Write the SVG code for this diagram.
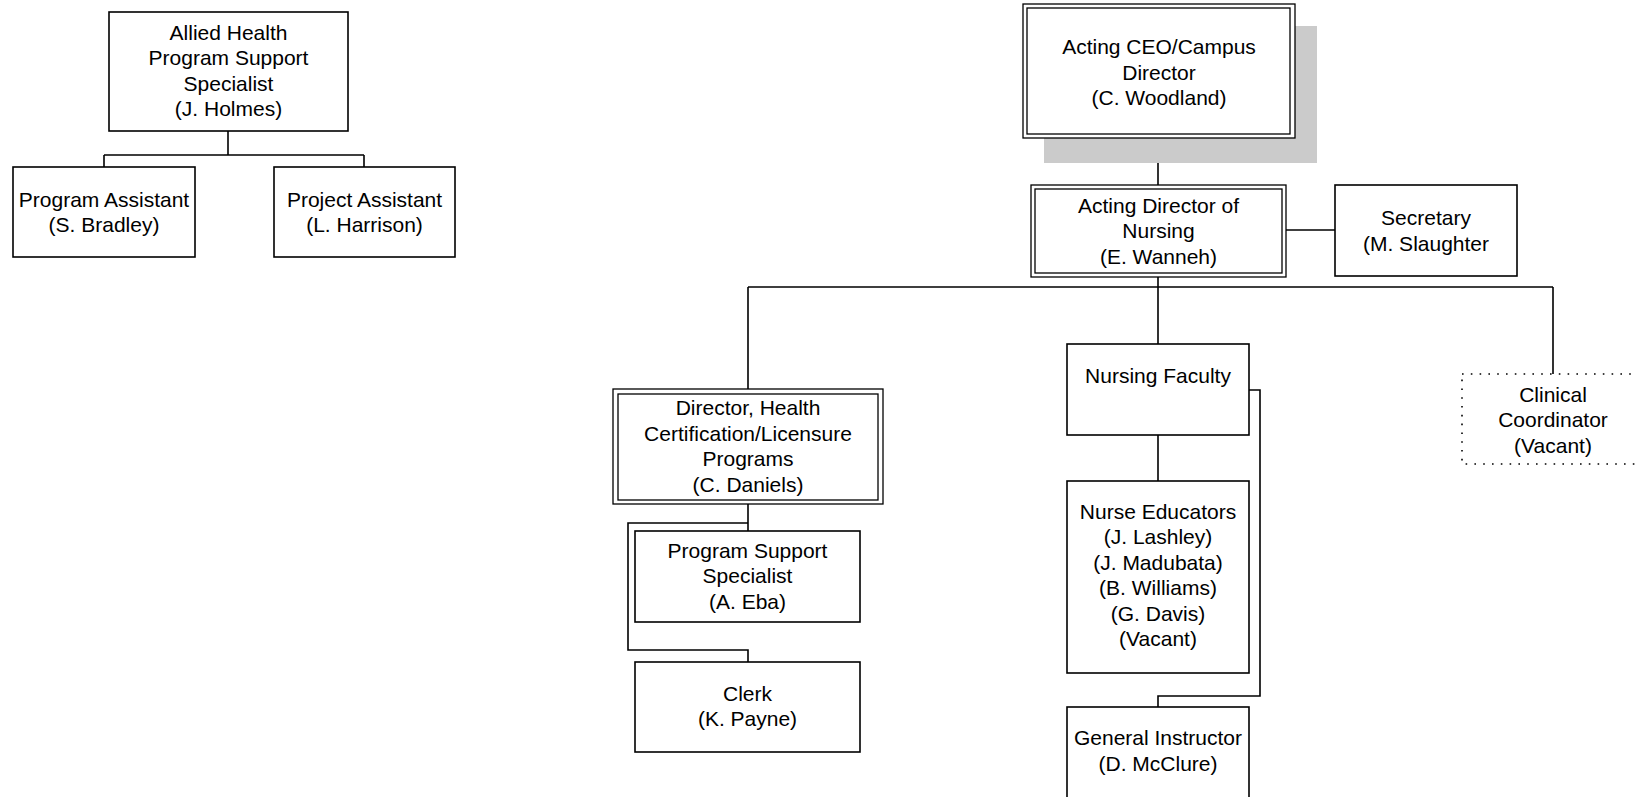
<svg xmlns="http://www.w3.org/2000/svg" width="1635" height="797" viewBox="0 0 1635 797">
<style>
.box{fill:#fff;stroke:#000;stroke-width:1.6}
.dbl{fill:none;stroke:#000;stroke-width:1.3}
.dot{fill:#fff;stroke:#000;stroke-width:1.6;stroke-dasharray:1.6 7.2}
.ln{fill:none;stroke:#000;stroke-width:1.6}
text{font-family:"Liberation Sans",Arial,sans-serif;font-size:21px;fill:#000;text-anchor:middle}
</style>
<rect width="1635" height="797" fill="#fff"/>
<g id="connectors">
<path class="ln" d="M228,131 V155 M104,155 H364 M104,155 V167 M364,155 V167"/>
<path class="ln" d="M1158,138 V185"/>
<path class="ln" d="M1286,230 H1335"/>
<path class="ln" d="M1158,277 V344 M748,287 H1553 M748,287 V389 M1553,287 V374"/>
<path class="ln" d="M748,504 V531 M748,523 H628 V650 H748 V662"/>
<path class="ln" d="M1158,435 V481 M1249,390 H1260 V696 H1158 V707"/>
</g>
<g id="allied-health">
<rect class="box" x="109" y="12" width="239" height="119"/>
<text x="228.5" y="39.5">Allied Health</text>
<text x="228.5" y="65">Program Support</text>
<text x="228.5" y="90.5">Specialist</text>
<text x="228.5" y="116">(J. Holmes)</text>
</g>
<g id="program-assistant">
<rect class="box" x="13" y="167" width="182" height="90"/>
<text x="104" y="206.5">Program Assistant</text>
<text x="104" y="232">(S. Bradley)</text>
</g>
<g id="project-assistant">
<rect class="box" x="274" y="167" width="181" height="90"/>
<text x="364.5" y="206.5">Project Assistant</text>
<text x="364.5" y="232">(L. Harrison)</text>
</g>
<g id="ceo">
<rect x="1044" y="26" width="273" height="137" fill="#cbcbcb"/>
<rect x="1023" y="4" width="272" height="134" fill="#fff" stroke="#000" stroke-width="1.3"/>
<rect class="dbl" x="1027" y="8" width="263" height="126"/>
<text x="1159" y="54">Acting CEO/Campus</text>
<text x="1159" y="79.5">Director</text>
<text x="1159" y="105">(C. Woodland)</text>
</g>
<g id="director-nursing">
<rect x="1031" y="185" width="255" height="92" fill="#fff" stroke="#000" stroke-width="1.3"/>
<rect class="dbl" x="1035" y="189" width="247" height="84"/>
<text x="1158.5" y="212.5">Acting Director of</text>
<text x="1158.5" y="238">Nursing</text>
<text x="1158.5" y="263.5">(E. Wanneh)</text>
</g>
<g id="secretary">
<rect class="box" x="1335" y="185" width="182" height="91"/>
<text x="1426" y="225">Secretary</text>
<text x="1426" y="250.5">(M. Slaughter</text>
</g>
<g id="director-health">
<rect x="613" y="389" width="270" height="115" fill="#fff" stroke="#000" stroke-width="1.3"/>
<rect class="dbl" x="618" y="394" width="260" height="106"/>
<text x="748" y="415">Director, Health</text>
<text x="748" y="440.5">Certification/Licensure</text>
<text x="748" y="466">Programs</text>
<text x="748" y="491.5">(C. Daniels)</text>
</g>
<g id="program-support-specialist">
<rect class="box" x="635" y="531" width="225" height="91"/>
<text x="747.5" y="557.5">Program Support</text>
<text x="747.5" y="583">Specialist</text>
<text x="747.5" y="608.5">(A. Eba)</text>
</g>
<g id="clerk">
<rect class="box" x="635" y="662" width="225" height="90"/>
<text x="747.5" y="700.5">Clerk</text>
<text x="747.5" y="726">(K. Payne)</text>
</g>
<g id="nursing-faculty">
<rect class="box" x="1067" y="344" width="182" height="91"/>
<text x="1158" y="383">Nursing Faculty</text>
</g>
<g id="nurse-educators">
<rect class="box" x="1067" y="481" width="182" height="192"/>
<text x="1158" y="518.5">Nurse Educators</text>
<text x="1158" y="544">(J. Lashley)</text>
<text x="1158" y="569.5">(J. Madubata)</text>
<text x="1158" y="595">(B. Williams)</text>
<text x="1158" y="620.5">(G. Davis)</text>
<text x="1158" y="646">(Vacant)</text>
</g>
<g id="general-instructor">
<rect class="box" x="1067" y="707" width="182" height="100"/>
<text x="1158" y="745">General Instructor</text>
<text x="1158" y="770.5">(D. McClure)</text>
</g>
<g id="clinical-coordinator">
<rect class="dot" x="1462" y="374" width="182" height="90"/>
<text x="1553" y="401.5">Clinical</text>
<text x="1553" y="427">Coordinator</text>
<text x="1553" y="452.5">(Vacant)</text>
</g>
</svg>
